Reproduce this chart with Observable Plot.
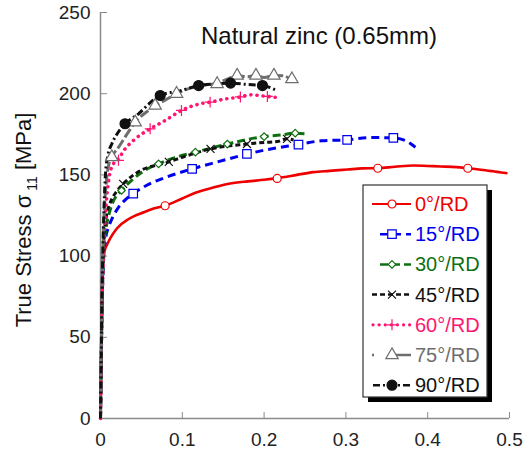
<!DOCTYPE html>
<html><head><meta charset="utf-8">
<script src="https://cdn.jsdelivr.net/npm/d3@7"></script>
<script src="https://cdn.jsdelivr.net/npm/@observablehq/plot@0.6"></script>
<style>
body{margin:0;background:#fff;font-family:"Liberation Sans",Arial,sans-serif;}
#wrap{position:relative;width:523px;height:457px;}
#wrap svg{position:absolute;left:0;top:0;}
</style></head><body><div id="wrap"></div>
<script>
// ---- data ----
const title = "Natural zinc (0.65mm)";
const xTicks = [0, 0.1, 0.2, 0.3, 0.4, 0.5];
const yTicks = [0, 50, 100, 150, 200, 250];
const seriesNames = ["0°/RD", "15°/RD", "30°/RD", "45°/RD", "60°/RD", "75°/RD", "90°/RD"];

const strain0 = [0,0.001,0.002,0.003,0.005,0.008,0.012,0.02,0.035,0.053,0.066,0.079,0.1,0.116,0.14,0.157,0.18,0.2,0.216,0.24,0.26,0.28,0.302,0.32,0.339,0.36,0.383,0.4,0.416,0.435,0.449,0.465,0.48,0.49,0.4975];
const stress0 = [0,40,80,95,103,107,111,117,123,127,129.5,131,135.5,139,142.5,144.5,146,147,148,150,151.7,152.5,153.3,154,154.1,155,155.8,155.5,155.2,154.8,154.1,153.2,152.2,151.5,151];
const mark0x = [0.079, 0.216, 0.339, 0.449];
const mark0y = [131, 147.8, 154.1, 154.1];

const strain15 = [0,0.002,0.004,0.006,0.01,0.015,0.022,0.03,0.04,0.056,0.08,0.112,0.143,0.179,0.208,0.242,0.27,0.302,0.33,0.358,0.373,0.385];
const stress15 = [0,70,100,110,118,124,130,134.5,138.5,143.5,148.5,153.7,158,162.8,166,168.7,171,171.6,173,172.8,171,167];
const mark15x = [0.04, 0.112, 0.179, 0.242, 0.3015, 0.358];
const mark15y = [138.5, 153.7, 163, 168.7, 171.6, 172.8];

const strain30 = [0,0.002,0.004,0.007,0.011,0.015,0.0257,0.04,0.062,0.071,0.09,0.116,0.155,0.2,0.22,0.238,0.253];
const stress30 = [0,70,105,118,127,133,140.4,147.5,155,156.8,160.5,164,169,173.6,174.5,175.7,175.2];
const mark30x = [0.0257, 0.071, 0.116, 0.155, 0.2, 0.238];
const mark30y = [140.4, 156.8, 164, 169, 173.6, 175.7];

const strain45 = [0,0.002,0.004,0.007,0.012,0.02,0.0277,0.045,0.0835,0.11,0.1345,0.179,0.2,0.216,0.228,0.236];
const stress45 = [0,75,110,124,133,140,144.5,151.5,158,162.5,166,169,170,170.5,172.2,171.5];
const mark45x = [0.0277, 0.0835, 0.1345, 0.179, 0.228];
const mark45y = [144.5, 158, 166, 169, 172.2];

const strain60 = [0,0.002,0.004,0.006,0.0094,0.0114,0.016,0.022,0.03,0.042,0.0607,0.079,0.099,0.124,0.134,0.153,0.171,0.183,0.204,0.22];
const stress60 = [0,70,105,125,144.5,150.7,157,160,166,172,178.4,183.5,189.7,194,194.8,196.8,198,199.3,198.3,197.4];
const mark60x = [0.022, 0.0607, 0.099, 0.134, 0.171, 0.204];
const mark60y = [159, 178.4, 189.7, 194.8, 198, 198.3];

const strain75 = [0,0.002,0.004,0.007,0.01,0.0138,0.022,0.034,0.0424,0.0587,0.0668,0.079,0.093,0.107,0.123,0.1426,0.155,0.167,0.18,0.19,0.2,0.212,0.224,0.234,0.24];
const stress75 = [0,80,120,145,156,161,167,176.3,182.4,189.7,192.7,196,200,203,205,206.5,209,211,210.5,211.2,210,211.2,211,209,209.5];
const mark75x = [0.0138, 0.0424, 0.0668, 0.093, 0.1426, 0.167, 0.19, 0.212, 0.234];
const mark75y = [161, 182.4, 192.7, 200, 206, 211.2, 211.2, 211.2, 209];

const strain90 = [0,0.002,0.004,0.006,0.009,0.0138,0.02,0.03,0.0465,0.0587,0.073,0.099,0.12,0.14,0.159,0.179,0.198,0.216];
const stress90 = [0,80,125,150,162,169,175,181.5,187.6,193.5,198.9,202,205,206,206.5,205.7,205,202];
const mark90x = [0.03, 0.073, 0.12, 0.159, 0.198];
const mark90y = [181.5, 198.9, 205, 206.5, 205];

// ---- styles ----
const colors = ["#ee0000", "#0000ee", "#0f700f", "#111111", "#ff1470", "#6e6e6e", "#111111"];
const dashes = [null, "8,5", "8,4", "5,3", "0.1,6", "10,3", "7,3,2,3"];
const symbols = ["circle", "square", "diamond2", "times", "plus", "triangle", "circle"];
const radii = [4, 4.8, 3.4, 3.7, 3.6, 4.6, 5];
const fills = ["white", "white", "white", "none", "none", "white", "#111111"];
const widths = [2.6, 3, 3, 3, 3.6, 3, 3];

const strains = [strain0, strain15, strain30, strain45, strain60, strain75, strain90];
const stresses = [stress0, stress15, stress30, stress45, stress60, stress75, stress90];
const marksX = [mark0x, mark15x, mark30x, mark45x, mark60x, mark75x, mark90x];
const marksY = [mark0y, mark15y, mark30y, mark45y, mark60y, mark75y, mark90y];

const lineMarks = [], dotMarks = [];
seriesNames.forEach((name, i) => {
  const pts = strains[i].map((s, k) => ({strain: s, stress: stresses[i][k]}));
  lineMarks.push(Plot.line(pts, {x: "strain", y: "stress", stroke: colors[i], strokeWidth: widths[i],
    strokeDasharray: dashes[i] || undefined, strokeLinecap: i === 4 ? "round" : "butt", curve: "monotone-x"}));
  const mk = marksX[i].map((s, k) => ({strain: s, stress: marksY[i][k]}));
  dotMarks.push(Plot.dot(mk, {x: "strain", y: "stress", symbol: symbols[i], r: radii[i],
    stroke: colors[i], fill: fills[i], strokeWidth: 1.2}));
});

const axisGray = "#8a8a8a";
const chart = Plot.plot({
  width: 523, height: 457,
  marginLeft: 100, marginRight: 14, marginTop: 12, marginBottom: 39,
  style: {fontFamily: "'Liberation Sans', Arial, sans-serif", fontSize: "19px", color: "#222", background: "white"},
  x: {domain: [0, 0.5], ticks: xTicks, tickSize: 0, tickPadding: 14, label: null,
      tickFormat: d => d === 0 ? "0" : d3.format(".1f")(d)},
  y: {domain: [0, 250], ticks: yTicks, tickSize: 0, tickPadding: 10, label: null},
  marks: [
    Plot.ruleX([0], {stroke: axisGray, strokeWidth: 1.5}),
    Plot.ruleY([0], {stroke: axisGray, strokeWidth: 1.5}),
    Plot.tickX(xTicks, {x: d => d, stroke: axisGray, insetTop: 400}),
    Plot.tickY(yTicks, {y: d => d, stroke: axisGray, insetRight: 402}),
    ...lineMarks,
    ...dotMarks
  ]
});
document.getElementById("wrap").appendChild(chart);

const svg = d3.select(chart);
svg.append("text").attr("x", 319).attr("y", 44).attr("text-anchor", "middle")
  .style("font-size", "24px").attr("fill", "#111").text(title);

const yl = svg.append("text").attr("transform", "translate(31,220) rotate(-90)")
  .attr("text-anchor", "middle").style("font-size", "22px").attr("fill", "#111");
yl.append("tspan").text("True Stress σ");
yl.append("tspan").attr("dy", 6).attr("dx", 4).style("font-size", "14px").text("11");
yl.append("tspan").attr("dy", -6).text(" [MPa]");

// ---- legend ----
const lg = svg.append("g");
lg.append("rect").attr("x", 368).attr("y", 190).attr("width", 124).attr("height", 212).attr("fill", "#000");
lg.append("rect").attr("x", 363).attr("y", 185).attr("width", 124).attr("height", 212)
  .attr("fill", "white").attr("stroke", "#333").attr("stroke-width", 1.2);
const sampleStart = [372, 380, 380, 372, 373, 372, 373];
const symMap = {circle: d3.symbolCircle, square: d3.symbolSquare, diamond2: d3.symbolDiamond2,
  times: d3.symbolTimes, plus: d3.symbolPlus, triangle: d3.symbolTriangle};
seriesNames.forEach((name, i) => {
  const cy = 204 + i * 30.2;
  const line = lg.append("line").attr("x1", sampleStart[i]).attr("x2", 411).attr("y1", cy).attr("y2", cy)
    .attr("stroke", colors[i]).attr("stroke-width", i === 0 ? 2 : (i === 4 ? 3.2 : 2.5));
  if (i === 5) line.attr("stroke-dasharray", "2,17,40");
  else if (dashes[i]) line.attr("stroke-dasharray", dashes[i]);
  if (i === 4) line.attr("stroke-linecap", "round");
  lg.append("path").attr("transform", `translate(392,${cy})`)
    .attr("d", d3.symbol(symMap[symbols[i]], radii[i] * radii[i] * Math.PI)())
    .attr("fill", fills[i]).attr("stroke", colors[i]).attr("stroke-width", 1.2);
  lg.append("text").attr("x", 415).attr("y", cy + 7).attr("text-anchor", "start").style("font-size", "20px")
    .attr("fill", colors[i]).text(name);
});
</script></body></html>
